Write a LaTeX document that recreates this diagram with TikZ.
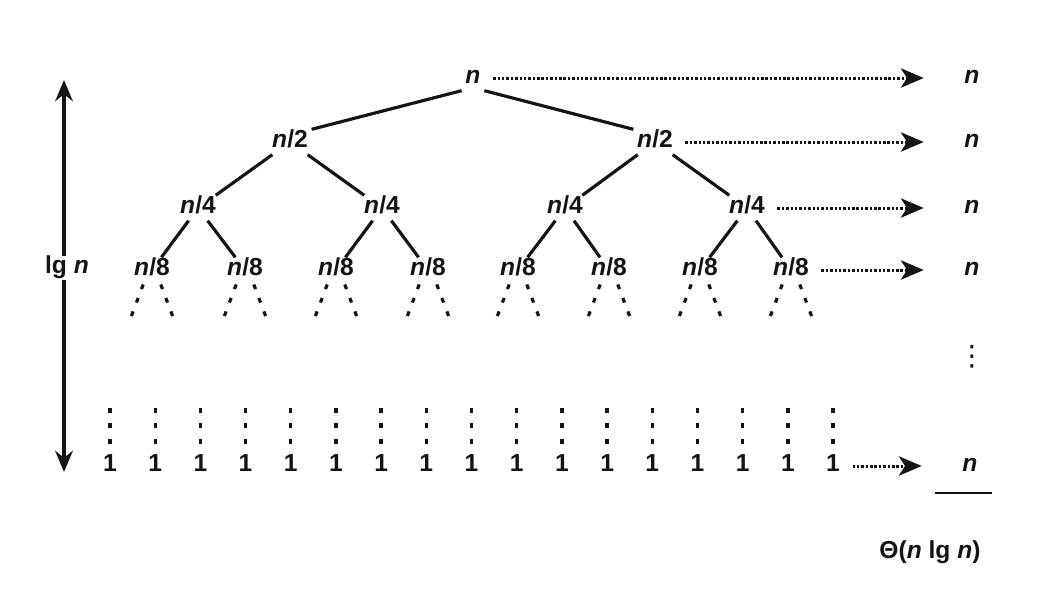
\documentclass[tikz,border=0pt]{standalone}
\usepackage{fontspec}
\setmainfont{Liberation Sans}
\newfontfamily\symfont{DejaVu Sans}
\usetikzlibrary{arrows.meta,positioning}
\definecolor{Ink}{HTML}{141414}
\tikzset{
  lbl/.style={font=\fontsize{14}{16}\selectfont\bfseries,text=Ink,inner sep=2pt,text height=1.5ex,text depth=.4ex},
  edge/.style={draw=Ink,line width=1.8pt},
  dotArrow/.style={draw=Ink,line width=1.7pt,dash pattern=on 1.4pt off 1.1pt,shorten <=5pt,shorten >=21pt,-{Stealth[length=13pt,width=11pt,inset=3.5pt]}},
  branch/.style={draw=Ink,line width=1.8pt,dash pattern=on 2.8pt off 5.4pt},
  leafDots/.style={draw=Ink,line width=1.9pt,dash pattern=on 3pt off 5.8pt},
  spanArrow/.style={draw=Ink,line width=1.8pt,{Stealth[length=12pt,width=10pt]}-{Stealth[length=12pt,width=10pt]}}
}
\begin{document}
\begin{tikzpicture}[x=0.02cm,y=-0.02cm]
\useasboundingbox (0,0) rectangle (1063,593);
% tree levels
\node[lbl] (root) at (473,78) {\textit{n}};
\node[lbl] (h1) at (290,142) {\textit{n}/2};
\node[lbl] (h2) at (655,142) {\textit{n}/2};
\node[lbl] (q1) at (198,208) {\textit{n}/4};
\node[lbl] (q2) at (382,208) {\textit{n}/4};
\node[lbl] (q3) at (565,208) {\textit{n}/4};
\node[lbl] (q4) at (747,208) {\textit{n}/4};
\foreach \i/\x in {1/152,2/245,3/336,4/428,5/518,6/609,7/700,8/791}{
  \node[lbl] (e\i) at (\x,270) {\textit{n}/8};
  \draw[branch] ([xshift=-5pt,yshift=-1pt]e\i.south) -- ++(-7.5pt,-20pt);
  \draw[branch] ([xshift=5pt,yshift=-1pt]e\i.south) -- ++(7.5pt,-20pt);
}
\draw[edge] (root.south west) -- (h1.north east);
\draw[edge] (root.south east) -- (h2.north west);
\draw[edge] (h1) -- (q1); \draw[edge] (h1) -- (q2);
\draw[edge] (h2) -- (q3); \draw[edge] (h2) -- (q4);
\draw[edge] (q1) -- (e1); \draw[edge] (q1) -- (e2);
\draw[edge] (q2) -- (e3); \draw[edge] (q2) -- (e4);
\draw[edge] (q3) -- (e5); \draw[edge] (q3) -- (e6);
\draw[edge] (q4) -- (e7); \draw[edge] (q4) -- (e8);
% leaves
\foreach \i in {0,...,16}{
  \node[lbl] (leaf\i) at ({110+45.19*\i},466) {1};
  \draw[leafDots] ([yshift=26pt]leaf\i.north) -- ([yshift=2pt]leaf\i.north);
}
% level costs
\node[lbl] (r0) at (972,78) {\textit{n}};
\node[lbl] (r1) at (972,142) {\textit{n}};
\node[lbl] (r2) at (972,208) {\textit{n}};
\node[lbl] (r3) at (972,270) {\textit{n}};
\node[lbl] (r4) at (970,466) {\textit{n}};
\node[lbl,font=\symfont\fontsize{16}{18}\selectfont] (vd) at (972,360) {⋮};
\draw[dotArrow] (root.east) -- (r0.west);
\draw[dotArrow] (h2.east) -- (r1.west);
\draw[dotArrow] (q4.east) -- (r2.west);
\draw[dotArrow] (e8.east) -- (r3.west);
\draw[dotArrow] (leaf16.east) -- (r4.west);
\draw[edge,line width=1.3pt] ([xshift=-20pt,yshift=-8pt]r4.south) -- ([xshift=12.5pt,yshift=-8pt]r4.south);
\node[lbl] (total) at (930,553) {Θ(\textit{n} lg \textit{n})};
% height
\coordinate (spanTop) at (64,80);
\coordinate (spanBot) at (64,472);
\draw[spanArrow] (spanTop) -- (spanBot);
\node[lbl,fill=white] (lgn) at (67,268) {lg \textit{n}};
\end{tikzpicture}
\end{document}
